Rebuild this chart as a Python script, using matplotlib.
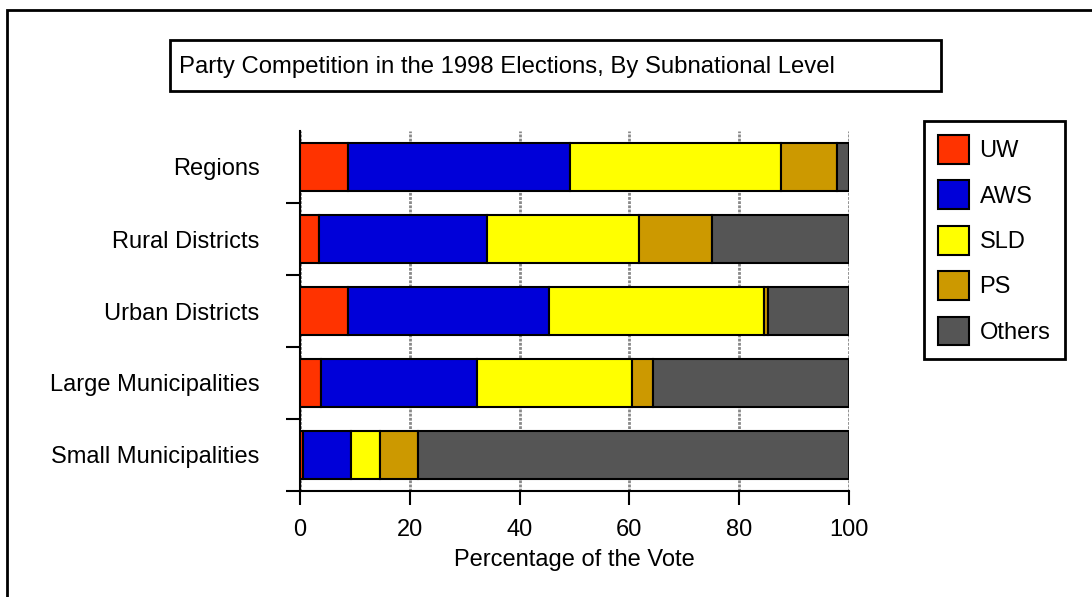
import matplotlib
matplotlib.use("Agg")
import matplotlib.pyplot as plt
from matplotlib.patches import Rectangle, Patch
import numpy as np

plt.rcParams['font.family'] = ['Liberation Sans', 'DejaVu Sans']

# data (percent of vote)
levels = ["Small Municipalities", "Large Municipalities", "Urban Districts",
          "Rural Districts", "Regions"]
parties = ["UW", "AWS", "SLD", "PS", "Others"]
uw = [0.6, 3.9, 8.8, 3.4, 8.8]
aws = [8.6, 28.3, 36.6, 30.7, 40.4]
sld = [5.4, 28.2, 39.2, 27.7, 38.4]
ps = [6.9, 3.9, 0.6, 13.2, 10.2]
others = [78.5, 35.7, 14.8, 25.0, 2.2]
colors = ["#FF3300", "#0000D9", "#FFFF00", "#CC9900", "#555555"]

W, H = 1092, 597
fs = 17
fig = plt.figure(figsize=(W / 100, H / 100), dpi=100)

# outer frame and title box
fig.patches.append(Rectangle((7 / W, -0.1), 1.2, 1 - 10 / H + 0.1, transform=fig.transFigure,
                             fill=False, lw=2, ec="black"))
fig.patches.append(Rectangle((170 / W, 1 - 91 / H), 771 / W, 51 / H, transform=fig.transFigure,
                             fill=False, lw=2, ec="black"))
fig.text(179 / W, 1 - 67 / H, "Party Competition in the 1998 Elections, By Subnational Level",
         fontsize=17.2, va="center", ha="left")

ax = fig.add_axes([300 / W, 106 / H, 549 / W, 360 / H])

y = np.arange(len(levels))
left = np.zeros(len(levels))
series = [uw, aws, sld, ps, others]
for vals, c, name in zip(series, colors, parties):
    ax.barh(y, vals, left=left, height=0.66, color=c, edgecolor="black", lw=1.5,
            label=name, zorder=3)
    left += np.array(vals)

ax.set_xlim(0, 100)
ax.set_ylim(-0.5, 4.5)
ax.set_xticks([0, 20, 40, 60, 80, 100])
ax.set_yticks(y)
ax.set_yticklabels(levels)
ax.set_yticks(np.arange(-0.5, 4.0, 1.0), minor=True)
ax.tick_params(axis="y", which="major", length=0, pad=29, labelsize=fs)
ax.tick_params(axis="y", which="minor", length=10, width=1.5, direction="out")
ax.tick_params(axis="x", length=10, width=1.5, direction="out", pad=10, labelsize=fs)
ax.xaxis.grid(True, color="#888888", lw=2, ls=(0, (1, 0.5)), zorder=0)
for s in ["top", "right"]:
    ax.spines[s].set_visible(False)
for s in ["left", "bottom"]:
    ax.spines[s].set_linewidth(1.5)
ax.set_xlabel("Percentage of the Vote", fontsize=fs, labelpad=6)

handles = [Patch(facecolor=c, edgecolor="black", lw=1.5, label=p) for c, p in zip(colors, parties)]
leg = fig.legend(handles=handles, loc="upper left", bbox_to_anchor=(924 / W, 1 - 121 / H),
                 fontsize=fs, fancybox=False, edgecolor="black", framealpha=1,
                 handlelength=1.3, handleheight=1.5, labelspacing=0.7, borderpad=0.6,
                 handletextpad=0.45, borderaxespad=0)
leg.get_frame().set_linewidth(2)

fig.savefig("out.png", dpi=100)
